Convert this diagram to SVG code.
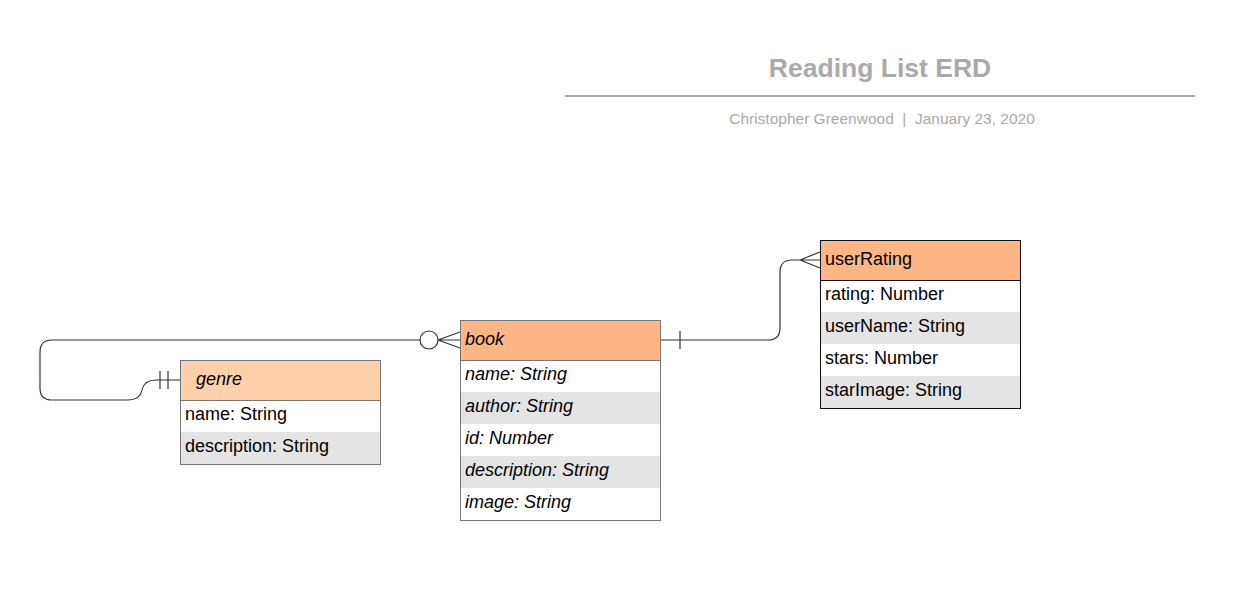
<svg xmlns="http://www.w3.org/2000/svg" width="1260" height="615" viewBox="0 0 1260 615">
<style>
text{font-family:"Liberation Sans",Arial,sans-serif;font-size:18px;fill:#000}
.it{font-style:italic}
.box{fill:none;stroke:#777;stroke-width:1}
.alt{fill:#e4e4e4}
.hdr{fill:#ffb584}
.hdr2{fill:#ffd1ab}
.conn{fill:none;stroke:#333;stroke-width:1.2}
.ttl{font-size:26.5px;font-weight:bold;fill:#aaa}
.sub{font-size:15.5px;fill:#aaa;white-space:pre}
</style>
<rect width="1260" height="615" fill="#fff"/>
<g id="title">
<text class="ttl" x="880" y="77" text-anchor="middle">Reading List ERD</text>
<line x1="565" y1="96" x2="1195" y2="96" stroke="#aaa" stroke-width="2"/>
<text class="sub" x="882" y="124" text-anchor="middle" xml:space="preserve">Christopher Greenwood  |  January 23, 2020</text>
</g>
<g id="connectors">
<path class="conn" d="M420,340 H52 Q40,340 40,352 V388 Q40,400 52,400 H128 Q140,400 142,390 Q144,380 156,380 H180"/>
<line class="conn" x1="160" y1="371" x2="160" y2="389"/>
<line class="conn" x1="168" y1="371" x2="168" y2="389"/>
<circle cx="429" cy="340" r="9" fill="#fff" stroke="#333" stroke-width="1.2"/>
<path class="conn" d="M438,340 H460 M438,340 L460,332 M438,340 L460,348"/>
<path class="conn" d="M660,340 H768 Q780,340 780,328 V272 Q780,260 792,260 H820 M800,260 L820,252 M800,260 L820,268"/>
<line class="conn" x1="680" y1="331" x2="680" y2="349"/>
</g>
<g id="genre">
<rect class="hdr2" x="180" y="360" width="200" height="40"/>
<rect fill="#fff" x="180" y="400" width="200" height="32"/>
<rect class="alt" x="180" y="432" width="200" height="32"/>
<rect class="box" x="180.5" y="360.5" width="200" height="104"/>
<line x1="180" y1="400.5" x2="380" y2="400.5" stroke="#777"/>
<text class="it" x="196" y="385">genre</text>
<text x="185" y="420">name: String</text>
<text x="185" y="452">description: String</text>
</g>
<g id="book">
<rect class="hdr" x="460" y="320" width="200" height="40"/>
<rect fill="#fff" x="460" y="360" width="200" height="32"/>
<rect class="alt" x="460" y="392" width="200" height="32"/>
<rect fill="#fff" x="460" y="424" width="200" height="32"/>
<rect class="alt" x="460" y="456" width="200" height="32"/>
<rect fill="#fff" x="460" y="488" width="200" height="32"/>
<rect class="box" x="460.5" y="320.5" width="200" height="200"/>
<line x1="460" y1="360.5" x2="660" y2="360.5" stroke="#777"/>
<text class="it" x="465" y="345">book</text>
<text class="it" x="465" y="380">name: String</text>
<text class="it" x="465" y="412">author: String</text>
<text class="it" x="465" y="444">id: Number</text>
<text class="it" x="465" y="476">description: String</text>
<text class="it" x="465" y="508">image: String</text>
</g>
<g id="userRating">
<rect class="hdr" x="820" y="240" width="200" height="40"/>
<rect fill="#fff" x="820" y="280" width="200" height="32"/>
<rect class="alt" x="820" y="312" width="200" height="32"/>
<rect fill="#fff" x="820" y="344" width="200" height="32"/>
<rect class="alt" x="820" y="376" width="200" height="32"/>
<rect x="820.5" y="240.5" width="200" height="168" fill="none" stroke="#111"/>
<line x1="820" y1="280.5" x2="1020" y2="280.5" stroke="#111"/>
<text x="825" y="265">userRating</text>
<text x="825" y="300">rating: Number</text>
<text x="825" y="332">userName: String</text>
<text x="825" y="364">stars: Number</text>
<text x="825" y="396">starImage: String</text>
</g>
</svg>
